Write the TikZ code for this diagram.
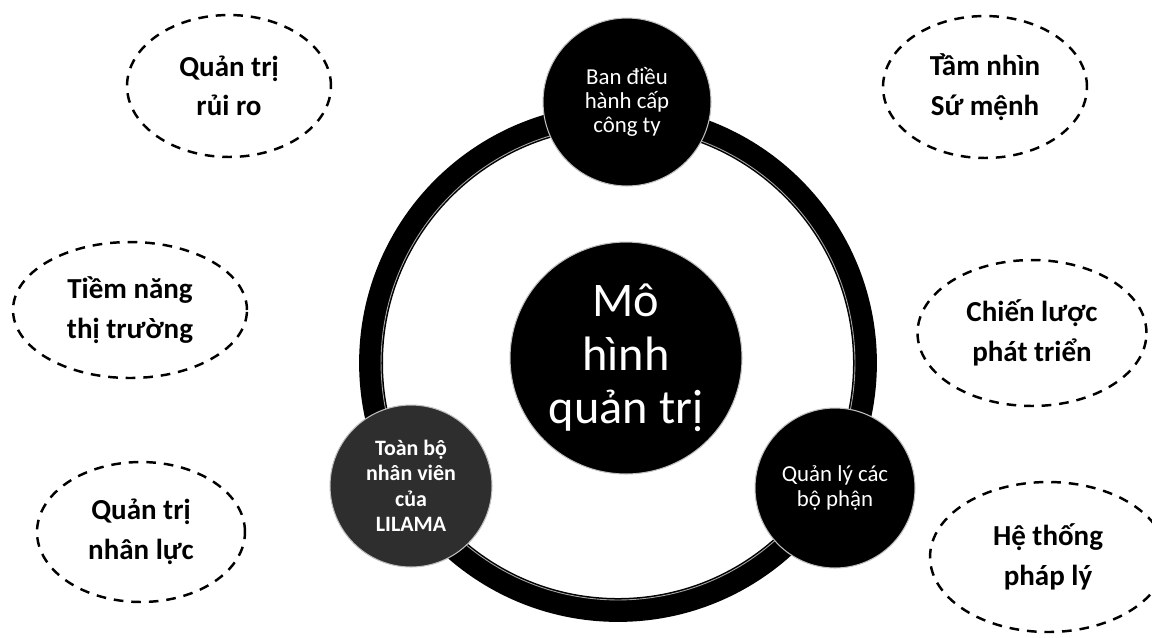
\documentclass[tikz,border=0pt]{standalone}
\usepackage{fontspec}
\setmainfont{Carlito}
\usetikzlibrary{shapes.geometric}
\begin{document}
\begin{tikzpicture}[x=0.02cm,y=-0.02cm,
  dashell/.style={ellipse,draw=black,line width=1.4pt,dash pattern=on 5.5pt off 4.5pt,
    inner sep=0pt,align=center,font=\fontsize{16.5}{22.5}\selectfont\bfseries},
  hub/.style={circle,fill=black,draw=black!25,line width=0.6pt,inner sep=0pt,
    text=white,align=center},
  ring/.style={draw=black,line width=13.6pt}]
\useasboundingbox (0,0) rectangle (1152,637);
% ring
\coordinate (rc) at (618,363);
\draw[ring] (rc) circle[radius=4.94cm];
\draw[black!35,line width=0.5pt] (rc) circle[radius=4.74cm];
% hubs
\node[hub,minimum size=3.36cm,font=\fontsize{13}{13.8}\selectfont] (top) at (627,102) {Ban điều\\hành cấp\\công ty};
\node[hub,minimum size=4.64cm,font=\fontsize{27.5}{30.5}\selectfont] (mid) at (626,358) {Mô\\hình\\quản trị};
\node[hub,fill=black!82,minimum size=3.24cm,font=\fontsize{12.5}{14.5}\selectfont\bfseries] (bl) at (411,486) {Toàn bộ\\nhân viên\\của\\LILAMA};
\node[hub,minimum size=3.2cm,font=\fontsize{13}{14.5}\selectfont] (br) at (835,488) {Quản lý các\\bộ phận};
% dashed ellipses
\node[dashell,minimum width=4.08cm,minimum height=2.84cm] (e1) at (229,86) {Quản trị\\rủi ro};
\node[dashell,minimum width=4.68cm,minimum height=2.72cm] (e2) at (130,310) {Tiềm năng\\thị trường};
\node[dashell,minimum width=4.16cm,minimum height=2.8cm] (e3) at (141,532) {Quản trị\\nhân lực};
\node[dashell,minimum width=4.08cm,minimum height=2.84cm] (e4) at (985,87) {Tầm nhìn\\Sứ mệnh};
\node[dashell,minimum width=4.58cm,minimum height=2.92cm] (e5) at (1032,333) {Chiến lược\\phát triển};
\node[dashell,minimum width=4.72cm,minimum height=3.0cm] (e6) at (1048,557) {Hệ thống\\pháp lý};
\end{tikzpicture}
\end{document}
